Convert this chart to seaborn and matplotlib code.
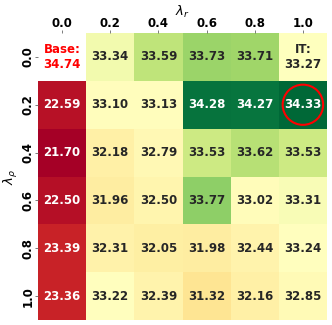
import matplotlib.pyplot as plt
import matplotlib.colors as mcolors
from matplotlib.patches import Circle
import pandas as pd
import seaborn as sns
import numpy as np

# values (rows: lambda_rho, cols: lambda_r)
lam_r = ['0.0', '0.2', '0.4', '0.6', '0.8', '1.0']
lam_rho = ['0.0', '0.2', '0.4', '0.6', '0.8', '1.0']
row_00 = [np.nan, 33.34, 33.59, 33.73, 33.71, 33.27]
row_02 = [22.59, 33.10, 33.13, 34.28, 34.27, 34.33]
row_04 = [21.70, 32.18, 32.79, 33.53, 33.62, 33.53]
row_06 = [22.50, 31.96, 32.50, 33.77, 33.02, 33.31]
row_08 = [23.39, 32.31, 32.05, 31.98, 32.44, 33.24]
row_10 = [23.36, 33.22, 32.39, 31.32, 32.16, 32.85]
base_score = 34.74
it_score = 33.27

df = pd.DataFrame([row_00, row_02, row_04, row_06, row_08, row_10],
                  index=lam_rho, columns=lam_r)

fig = plt.figure(figsize=(3.32, 3.25), dpi=100)
ax = fig.add_axes([38 / 332, 5 / 325, 289 / 332, 287 / 325])

norm = mcolors.TwoSlopeNorm(vmin=np.nanmin(df.values), vcenter=it_score,
                            vmax=np.nanmax(df.values))

# annotation strings; the corner cells get their own labels
labels = df.map(lambda v: '' if np.isnan(v) else f'{v:.2f}')
labels.iloc[0, 5] = f'IT:\n{it_score:.2f}'

sns.heatmap(df, ax=ax, cmap='RdYlGn', norm=norm, cbar=False,
            annot=labels.values, fmt='', square=False,
            annot_kws={'fontsize': 8.5, 'fontweight': 'bold'})

ax.text(0.5, 0.5, f'Base:\n{base_score:.2f}', ha='center', va='center',
        color='red', fontsize=8.5, fontweight='bold')

# highlight best cell
best = np.unravel_index(np.nanargmax(df.values), df.shape)
ax.add_patch(Circle((best[1] + 0.5, best[0] + 0.5), 0.42, fill=False,
                    edgecolor='red', linewidth=1.5, clip_on=False))

ax.xaxis.tick_top()
ax.xaxis.set_label_position('top')
ax.tick_params(length=2.2, pad=0.3, width=0.6, color='0.4')
ax.set_xlabel(r'$\lambda_r$', fontsize=9.5, labelpad=0.5)
ax.set_ylabel(r'$\lambda_\rho$', fontsize=9.5, labelpad=1)
plt.setp(ax.get_xticklabels(), fontweight='bold', fontsize=8.5, rotation=0)
plt.setp(ax.get_yticklabels(), fontweight='bold', fontsize=8.5, rotation=90,
         va='center')

fig.savefig('out.png', dpi=100)
